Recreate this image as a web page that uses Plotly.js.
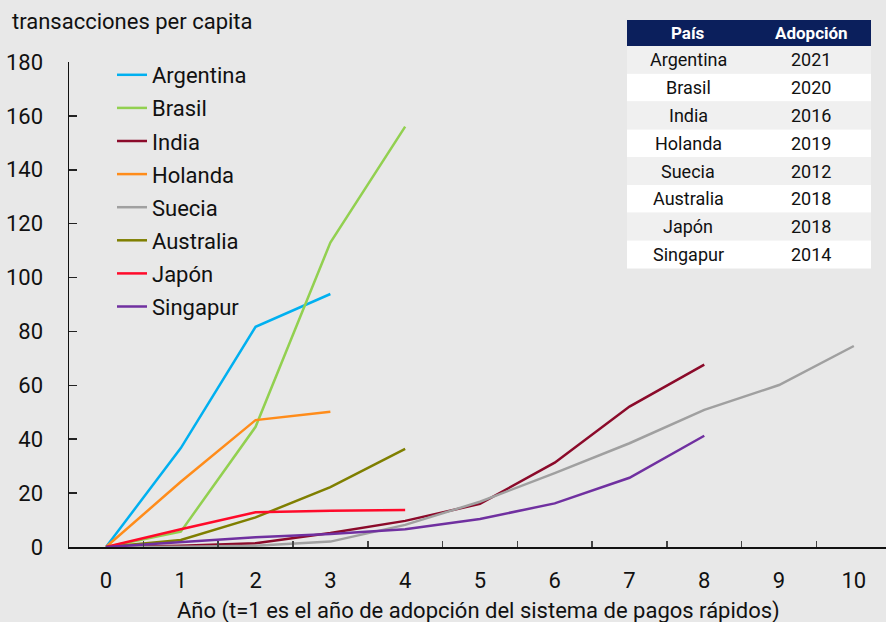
<!DOCTYPE html>
<html>
<head>
<meta charset="utf-8">
<script src="https://cdn.plot.ly/plotly-3.0.1.min.js"></script>
<style>html,body{margin:0;padding:0;background:#e8e8e8;}#chart{width:886px;height:622px;}</style>
</head>
<body>
<div id="chart"></div>
<script>
const years = ['0','1','2','3','4','5','6','7','8','9','10'];
const argentina = [0, 36.7, 81.7, 93.9];
const brasil    = [0, 5.7, 44.6, 113, 156];
const india     = [0, 0.5, 1.4, 5.2, 9.7, 16.0, 31.3, 52.1, 67.7];
const holanda   = [0, 24.2, 47.1, 50.2];
const suecia    = [0, 0.1, 0.5, 2.0, 8.2, 16.8, 27.4, 38.5, 50.9, 60.1, 74.6];
const australia = [0, 2.6, 11.0, 22.2, 36.4];
const japon     = [0, 6.6, 12.9, 13.5, 13.7];
const singapur  = [0, 1.7, 3.6, 4.8, 6.6, 10.4, 16.2, 25.7, 41.3];

const names  = ['Argentina','Brasil','India','Holanda','Suecia','Australia','Japón','Singapur'];
const series = [argentina, brasil, india, holanda, suecia, australia, japon, singapur];
const colors = ['#00b0f0','#92d050','#8b0a2a','#ff8c1a','#a0a0a0','#7f7f00','#ff0a2a','#7030a0'];

const tableHeader = ['País', 'Adopción'];
const tablePais = ['Argentina','Brasil','India','Holanda','Suecia','Australia','Japón','Singapur'];
const tableAdopcion = ['2021','2020','2016','2019','2012','2018','2018','2014'];

const yTitle = 'transacciones per capita';
const xTitle = 'Año (t=1 es el año de adopción del sistema de pagos rápidos)';

const font = 'Roboto, "Noto Sans", sans-serif';

// pixel -> paper helpers (plot area: x 69..886, y 10..547)
const L = 69, R = 886, T = 10, B = 547;
const px = v => (v - L) / (R - L);
const py = v => (B - v) / (B - T);

const traces = series.map((s, i) => ({
  type: 'scatter', mode: 'lines',
  x: years.slice(0, s.length), y: s,
  name: names[i], legendgroup: 'g' + i,
  line: {color: colors[i], width: 2.5},
  hoverinfo: 'skip'
}));

// table drawn with shapes + annotations
const tX0 = 627, tX1 = 871, hTop = 20, hBot = 46, rowH = 27.8;
const colC = [688, 811];
const shapes = [];
const annotations = [];
shapes.push({type: 'rect', xref: 'paper', yref: 'paper', x0: px(tX0), x1: px(tX1), y0: py(hBot), y1: py(hTop),
  fillcolor: '#0b1f5c', line: {width: 0}, layer: 'above'});
tableHeader.forEach((h, c) => annotations.push({
  text: '<b>' + h + '</b>', xref: 'paper', yref: 'paper', x: px(colC[c]), y: py((hTop + hBot) / 2),
  xanchor: 'center', yanchor: 'middle', showarrow: false, font: {family: font, size: 17, color: '#ffffff'}
}));
tablePais.forEach((p, i) => {
  const y0 = hBot + i * rowH, y1 = y0 + rowH;
  shapes.push({type: 'rect', xref: 'paper', yref: 'paper', x0: px(tX0), x1: px(tX1), y0: py(y1), y1: py(y0),
    fillcolor: i % 2 === 0 ? '#f0f0f0' : '#ffffff', line: {width: 0}, layer: 'above'});
  [p, tableAdopcion[i]].forEach((t, c) => annotations.push({
    text: t, xref: 'paper', yref: 'paper', x: px(colC[c]), y: py((y0 + y1) / 2),
    xanchor: 'center', yanchor: 'middle', showarrow: false, font: {family: font, size: 18, color: '#111111'}
  }));
});

annotations.push({
  text: yTitle, xref: 'paper', yref: 'paper',
  x: px(10), xanchor: 'left', y: py(22), yanchor: 'middle',
  showarrow: false, font: {family: font, size: 22, color: '#111111'}
});
annotations.push({
  text: xTitle, xref: 'paper', yref: 'paper',
  x: px(478), xanchor: 'center', y: py(611), yanchor: 'middle',
  showarrow: false, font: {family: font, size: 22, color: '#111111'}
});

const layout = {
  width: 886, height: 622,
  paper_bgcolor: '#e8e8e8', plot_bgcolor: '#e8e8e8',
  margin: {l: L, r: 0, t: T, b: 622 - B},
  font: {family: font, size: 22, color: '#111111'},
  showlegend: true,
  legend: {
    x: px(112), xanchor: 'left', y: py(54), yanchor: 'top',
    bgcolor: 'rgba(0,0,0,0)', font: {family: font, size: 22, color: '#111111'},
    traceorder: 'grouped', tracegroupgap: 1.5, itemwidth: 30
  },
  xaxis: {
    type: 'category', categoryorder: 'array', categoryarray: years,
    range: [-0.495, 10.43],
    tickson: 'boundaries', ticks: 'inside', ticklen: 6, tickcolor: '#444444', tickwidth: 1.5,
    ticklabelstandoff: 13,
    showgrid: false, zeroline: false,
    showline: true, linecolor: '#111111', linewidth: 1.5,
    tickfont: {size: 22}
  },
  yaxis: {
    domain: [0, py(62)],
    range: [0, 180], tickvals: [0,20,40,60,80,100,120,140,160,180],
    ticks: 'inside', ticklen: 8, tickcolor: '#222222', tickwidth: 1.5,
    ticklabelstandoff: 20,
    showgrid: false, zeroline: false,
    showline: true, linecolor: '#111111', linewidth: 1.5,
    tickfont: {size: 22}
  },
  shapes: shapes,
  annotations: annotations
};

Plotly.newPlot('chart', traces, layout, {displayModeBar: false, staticPlot: true});
</script>
</body>
</html>
